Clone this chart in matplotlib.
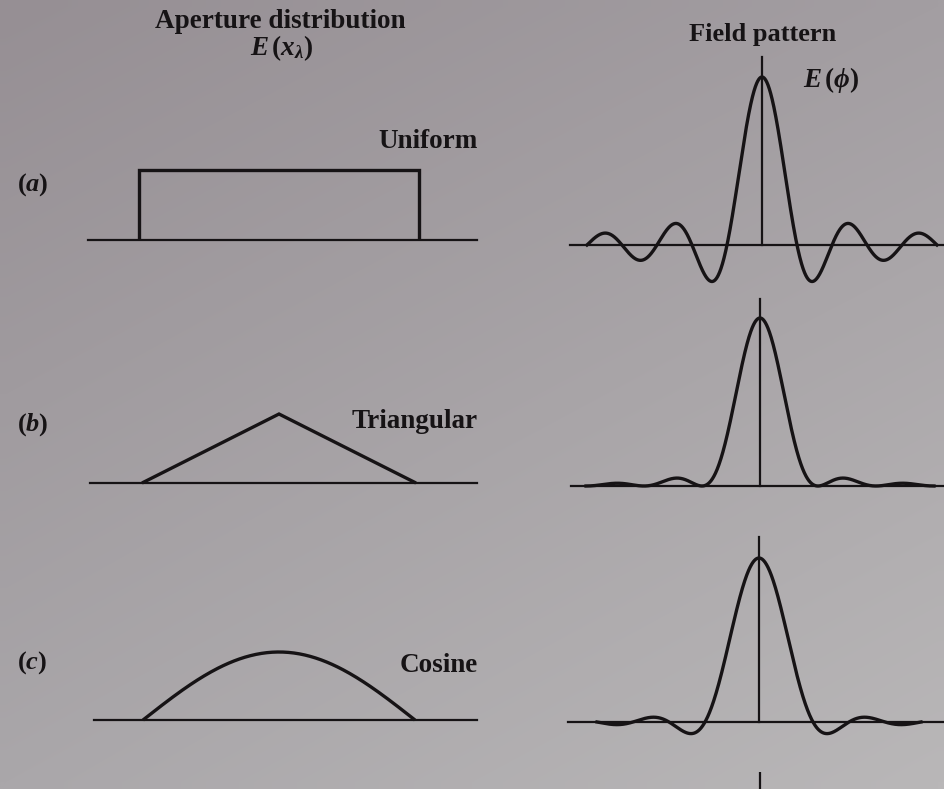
import numpy as np
import matplotlib
matplotlib.use("Agg")
import matplotlib.pyplot as plt
from matplotlib.colors import to_rgb

plt.rcParams["mathtext.fontset"] = "custom"
plt.rcParams["mathtext.rm"] = "Liberation Serif:bold"
plt.rcParams["mathtext.it"] = "Liberation Serif:italic:bold"
plt.rcParams["mathtext.bf"] = "Liberation Serif:bold"
plt.rcParams["mathtext.fallback"] = "stix"

# ---- data -------------------------------------------------------------
panel_labels = [r"$(a)$", r"$(b)$", r"$(c)$"]
distribution_names = ["Uniform", "Triangular", "Cosine"]

# aperture distributions over the normalised aperture coordinate x in [-1, 1]
uniform_x = [-1.0, -1.0, 1.0, 1.0]
uniform_y = [0.0, 1.0, 1.0, 0.0]
triangular_x = [-1.0, 0.0, 1.0]
triangular_y = [0.0, 1.0, 0.0]
cosine_x = np.linspace(-1.0, 1.0, 201)
cosine_y = np.cos(np.pi * cosine_x / 2.0)

# half-extent of each field-pattern trace, in multiples of pi
pattern_extent = [5.0, 6.0, 4.5]

apertures = [(uniform_x, uniform_y), (triangular_x, triangular_y), (cosine_x, cosine_y)]


def field_pattern(ap_x, ap_y, extent):
    """Far-field pattern: Fourier transform of the aperture distribution."""
    xs = np.linspace(-1.0, 1.0, 4001)
    ex = np.interp(xs, ap_x, ap_y)
    u = np.linspace(-extent * np.pi, extent * np.pi, 1600)
    e = np.trapezoid(ex[None, :] * np.cos(np.outer(u, xs)), xs, axis=1)
    return u, e / np.trapezoid(ex, xs)


# ---- layout (pixels) --------------------------------------------------
W, H = 944, 789
fig = plt.figure(figsize=(W / 100, H / 100), dpi=100)

# page background
bg = fig.add_axes([0, 0, 1, 1], zorder=-5)
c_tl, c_tr = np.array(to_rgb("#968f94")), np.array(to_rgb("#a39ea2"))
c_bl, c_br = np.array(to_rgb("#aaa7aa")), np.array(to_rgb("#b9b7b8"))
gy, gx = np.mgrid[0:1:60j, 0:1:80j]
grad = ((1 - gx) * (1 - gy))[..., None] * c_tl + (gx * (1 - gy))[..., None] * c_tr \
    + ((1 - gx) * gy)[..., None] * c_bl + (gx * gy)[..., None] * c_br
bg.imshow(grad, extent=[0, 1, 0, 1], aspect="auto", origin="upper", interpolation="bilinear")
bg.set_axis_off()

INK = "#161315"
LW_CURVE = 2.4
LW_AXIS = 1.6


def axes_px(left, top, right, bottom):
    return fig.add_axes([left / W, 1 - bottom / H, (right - left) / W, (bottom - top) / H])


def setup(ax, box, cx, base, sx, sy, base_from, base_to, vline_top=None):
    left, top, right, bottom = box
    ax.set_xlim((left - cx) / sx, (right - cx) / sx)
    ax.set_ylim((base - bottom) / sy, (base - top) / sy)
    ax.patch.set_visible(False)
    ax.set_xticks([])
    ax.set_yticks([])
    for s in ("top", "right"):
        ax.spines[s].set_visible(False)
    sp = ax.spines["bottom"]
    sp.set_position(("data", 0.0))
    sp.set_bounds((base_from - cx) / sx, (base_to - cx) / sx)
    sp.set_linewidth(LW_AXIS)
    sp.set_color(INK)
    sl = ax.spines["left"]
    if vline_top is None:
        sl.set_visible(False)
    else:
        sl.set_position(("data", 0.0))
        sl.set_bounds(0.0, (base - vline_top) / sy)
        sl.set_linewidth(LW_AXIS)
        sl.set_color(INK)


# left column: aperture distributions
left_rows = [
    dict(base=240, peak=170, cx=279, half=140, b0=88, b1=477),
    dict(base=483, peak=414, cx=279, half=137, b0=90, b1=477),
    dict(base=720, peak=652, cx=279, half=136, b0=94, b1=477),
]
# right column: field patterns
right_rows = [
    dict(base=245, peak=77, cx=762, zero_px=35.0, zero_u=1.0, vtop=57, b0=570),
    dict(base=486, peak=318, cx=760, zero_px=58.0, zero_u=2.0, vtop=299, b0=571),
    dict(base=722, peak=558, cx=759, zero_px=54.0, zero_u=1.5, vtop=537, b0=568),
]

for i in range(3):
    lr = left_rows[i]
    sy = lr["base"] - lr["peak"]
    box = (70, lr["peak"] - 40, 490, lr["base"] + 30)
    ax = axes_px(*box)
    setup(ax, box, lr["cx"], lr["base"], lr["half"], sy, lr["b0"], lr["b1"])
    ap_x, ap_y = apertures[i]
    ax.plot(ap_x, ap_y, color=INK, lw=LW_CURVE, solid_joinstyle="miter",
            solid_capstyle="butt")

    rr = right_rows[i]
    sy = rr["base"] - rr["peak"]
    sx = rr["zero_px"] / (rr["zero_u"] * np.pi)
    box = (560, rr["vtop"] - 5, W, rr["base"] + 50)
    ax = axes_px(*box)
    setup(ax, box, rr["cx"], rr["base"], sx, sy, rr["b0"], W, vline_top=rr["vtop"])
    u, e = field_pattern(ap_x, ap_y, pattern_extent[i])
    ax.plot(u, e, color=INK, lw=LW_CURVE)

# axis stub of the next pattern below the page edge
stub = axes_px(700, 772, 820, 789)
stub.set_xlim(-1, 1)
stub.set_ylim(0, 1)
stub.axvline(0, color=INK, lw=LW_AXIS)
stub.set_axis_off()


def label(x, y, s, size, ha="center"):
    fig.text(x / W, 1 - y / H, s, ha=ha, va="center", fontsize=size,
             family="Liberation Serif", weight="bold", color=INK)


label(280, 22, "Aperture distribution", 19.5)
label(282, 48, r"$E\,(x_\lambda)$", 19.5)
label(763, 35, "Field pattern", 19)
label(831, 80, r"$E\,(\phi)$", 19.5)

label_y = [185, 425, 663]
name_y = [142, 422, 665]
for i in range(3):
    label(17, label_y[i], panel_labels[i], 19, ha="left")
    label(478, name_y[i], distribution_names[i], 19.5, ha="right")

fig.savefig("out.png", dpi=100)
